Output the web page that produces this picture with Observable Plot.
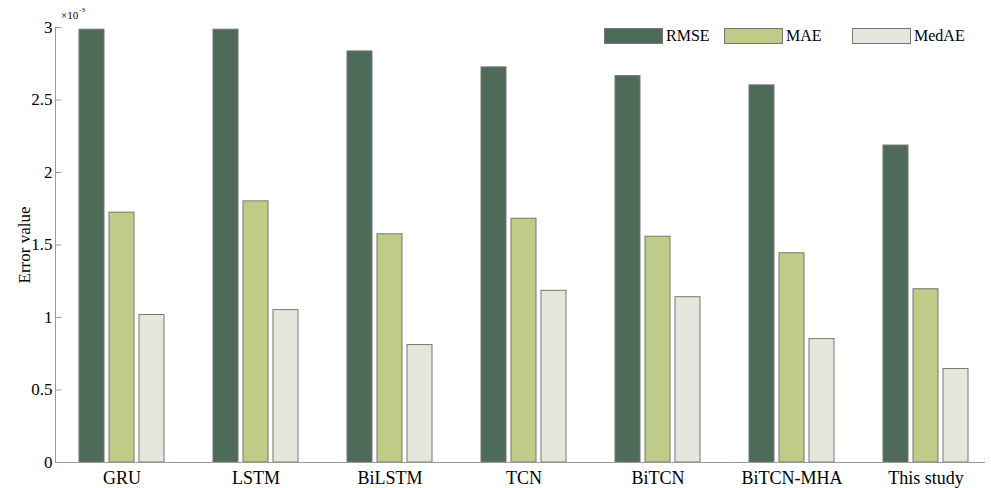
<!DOCTYPE html>
<html><head><meta charset="utf-8">
<script src="https://cdn.jsdelivr.net/npm/d3@7"></script>
<script src="https://cdn.jsdelivr.net/npm/@observablehq/plot@0.6"></script>
<style>
body{margin:0;background:#fff}
#wrap{position:relative;width:991px;height:488px;font-family:"Liberation Serif","Times New Roman",serif;color:#000}
#wrap svg text{font-size:17px}
#wrap svg g[aria-label="fx-axis tick label"] text{font-size:18px}
#legend{position:absolute;left:604px;top:28px;display:flex;font-size:16px;line-height:16px}
#legend .item{display:flex;align-items:center}
#legend .sw{width:57px;height:14px;border:1px solid #777;margin-right:3px}
#exp{position:absolute;left:61px;top:10px;font-size:11px;line-height:11px;white-space:nowrap}
#exp .sup{font-size:7px;position:relative;top:-7px;margin-left:1px}
</style>
</head><body><div id="wrap"></div>
<script>
const models = ["GRU","LSTM","BiLSTM","TCN","BiTCN","BiTCN-MHA","This study"];
const metrics = ["RMSE","MAE","MedAE"];
const rmse  = [2.985, 2.985, 2.835, 2.725, 2.665, 2.601, 2.186];
const mae   = [1.723, 1.801, 1.574, 1.681, 1.557, 1.443, 1.195];
const medae = [1.017, 1.051, 0.810, 1.184, 1.140, 0.851, 0.645];
const yTicks = [0, 0.5, 1, 1.5, 2, 2.5, 3];
const yTickLabels = ["0","0.5","1","1.5","2","2.5","3"];
const colors = ["#4e6a58", "#bfcc88", "#e4e8dc"];

const series = [rmse, mae, medae];
const rows = models.flatMap((m, i) => metrics.map((k, j) => ({model: m, metric: k, value: series[j][i]})));

const plot = Plot.plot({
  width: 991, height: 488,
  marginLeft: 55, marginRight: 0, marginTop: 27, marginBottom: 26,
  style: {fontFamily: "'Liberation Serif', serif", fontSize: "17px", color: "#000", background: "#fff", overflow: "visible"},
  fx: {domain: models, paddingInner: 0.367, paddingOuter: 0.175, label: null, axis: null},
  x: {domain: metrics, paddingInner: 0.167, paddingOuter: 0, axis: null},
  y: {domain: [0, 3], axis: null},
  color: {domain: metrics, range: colors},
  marks: [
    Plot.barY(rows, {fx: "model", x: "metric", y: "value", fill: "metric", stroke: "#777", strokeWidth: 1}),
    Plot.axisFx({anchor: "bottom", tickSize: 0, tickPadding: 9, label: null}),
    Plot.axisY({ticks: yTicks, tickFormat: (d) => yTickLabels[yTicks.indexOf(d)], tickSize: 6, tickPadding: 3, dx: -18, stroke: "#999",
      label: "Error value", labelAnchor: "center", labelArrow: "none", labelOffset: 62}),
    Plot.frame({anchor: "bottom", facet: "super", stroke: "#999", insetLeft: -24, insetRight: -16}),
    Plot.frame({anchor: "left", facet: "super", stroke: "#999", insetLeft: -24})
  ]
});
const wrap = document.getElementById("wrap");
wrap.appendChild(plot);

const exp = document.createElement("div");
exp.id = "exp";
exp.innerHTML = "×10<span class='sup'>-3</span>";
wrap.appendChild(exp);

const legend = document.createElement("div");
legend.id = "legend";
const itemWidths = [120, 128, null];
metrics.forEach((k, j) => {
  const it = document.createElement("div");
  it.className = "item";
  if (itemWidths[j]) it.style.width = itemWidths[j] + "px";
  const sw = document.createElement("div");
  sw.className = "sw";
  sw.style.background = colors[j];
  const t = document.createElement("span");
  t.textContent = k;
  it.appendChild(sw); it.appendChild(t);
  legend.appendChild(it);
});
wrap.appendChild(legend);
</script>
</body></html>
